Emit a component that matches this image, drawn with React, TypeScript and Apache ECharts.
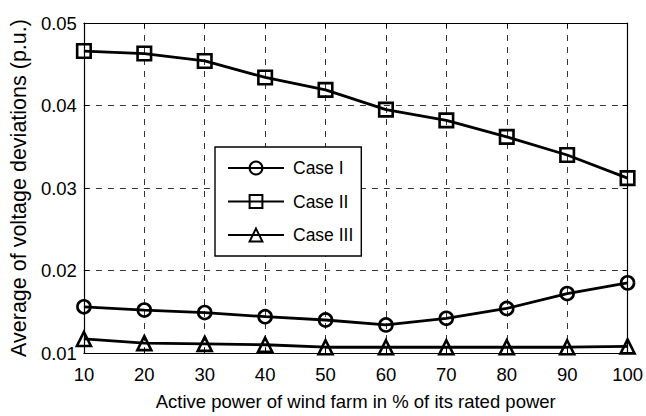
import React, { useEffect, useRef } from "react";
import * as echarts from "echarts";

const xValues = [10, 20, 30, 40, 50, 60, 70, 80, 90, 100];
const caseI = [0.0156, 0.0152, 0.0149, 0.0144, 0.014, 0.0134, 0.0142, 0.0154, 0.0172, 0.0185];
const caseII = [0.0466, 0.0463, 0.0454, 0.0434, 0.0419, 0.0395, 0.0382, 0.0362, 0.034, 0.0312];
const caseIII = [0.0117, 0.0112, 0.0111, 0.011, 0.0107, 0.0107, 0.0107, 0.0107, 0.0107, 0.0108];
const seriesNames = ["Case I", "Case II", "Case III"];

const FONT = "'Liberation Sans', Arial, Helvetica, sans-serif";

export default function App() {
  const ref = useRef<HTMLDivElement>(null);
  useEffect(() => {
    if (!ref.current) return;
    const chart = echarts.init(ref.current, null, { renderer: "svg" });
    const mk = (name: string, data: number[], symbol: string, size: number) => ({
      name,
      type: "line",
      data: xValues.map((x, i) => [x, data[i]]),
      symbol,
      symbolSize: size,
      showAllSymbol: true,
      lineStyle: { color: "#000", width: 2.8 },
      itemStyle: { color: "transparent", borderColor: "#000", borderWidth: 2.6 },
      emphasis: { disabled: true },
      z: 5,
    });
    const axisCommon = {
      axisLine: { show: true, lineStyle: { color: "#000", width: 1.2 } },
      axisTick: { show: true, inside: true, length: 5, lineStyle: { color: "#000" } },
    };
    const splitLine = {
      show: true,
      showMinLine: false,
      showMaxLine: false,
      lineStyle: { color: "#333", type: [6, 6], width: 1 },
    };
    chart.setOption({
      animation: false,
      backgroundColor: "#fff",
      grid: { left: 81, right: 15, top: 23, bottom: 63 },
      legend: {
        orient: "vertical",
        left: 215,
        top: 147,
        padding: [12, 8, 12, 12],
        itemWidth: 56,
        itemHeight: 16,
        itemGap: 15.5,
        borderColor: "#000",
        borderWidth: 1.4,
        borderRadius: 0,
        backgroundColor: "#fff",
        data: seriesNames,
        textStyle: { fontFamily: FONT, fontSize: 17.5, lineHeight: 16, color: "#000", padding: [0, 0, 0, 4] },
        selectedMode: false,
      },
      xAxis: [
        {
          type: "value",
          min: 10,
          max: 100,
          interval: 10,
          name: "Active power of wind farm in % of its rated power",
          nameLocation: "middle",
          nameGap: 39,
          nameTextStyle: { fontFamily: FONT, fontSize: 18.5, color: "#000" },
          axisLabel: { fontFamily: FONT, fontSize: 18.5, color: "#000", margin: 12 },
          splitLine,
          ...axisCommon,
        },
        {
          type: "value",
          position: "top",
          min: 10,
          max: 100,
          interval: 10,
          axisLabel: { show: false },
          splitLine: { show: false },
          ...axisCommon,
        },
      ],
      yAxis: [
        {
          type: "value",
          min: 0.01,
          max: 0.05,
          interval: 0.01,
          name: "Average of voltage deviations (p.u.)",
          nameLocation: "middle",
          nameGap: 52,
          nameTextStyle: { fontFamily: FONT, fontSize: 21.5, color: "#000" },
          axisLabel: { fontFamily: FONT, fontSize: 18.5, color: "#000", margin: 7 },
          splitLine,
          ...axisCommon,
        },
        {
          type: "value",
          position: "right",
          min: 0.01,
          max: 0.05,
          interval: 0.01,
          axisLabel: { show: false },
          splitLine: { show: false },
          ...axisCommon,
        },
      ],
      series: [
        mk(seriesNames[0], caseI, "circle", 13),
        mk(seriesNames[1], caseII, "rect", 13.5),
        mk(seriesNames[2], caseIII, "triangle", 14),
      ],
    });
    return () => chart.dispose();
  }, []);
  return <div ref={ref} style={{ width: 646, height: 416, position: "absolute", left: 0, top: 0 }} />;
}
